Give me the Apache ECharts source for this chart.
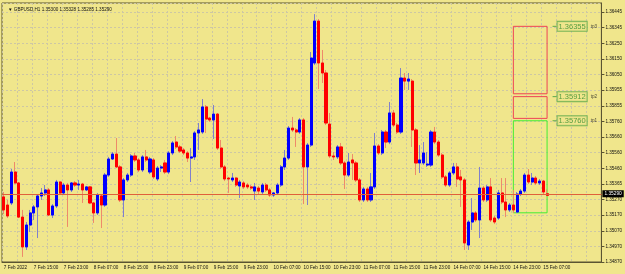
<!DOCTYPE html>
<html>
<head>
<meta charset="utf-8">
<script src="https://cdn.jsdelivr.net/npm/echarts@6/dist/echarts.min.js"></script>
<style>
    html, body { margin: 0; padding: 0; background: #f0e68c; }
    #chart { width: 625px; height: 274px; }
</style>
</head>
<body>
<div id="chart"></div>
<script>
// 蜡烛数据 [open, close, low, high]  GBPUSD H1, 7 Feb 07:00 -> 15 Feb 08:00
var ohlc = [
    [1.35280, 1.35198, 1.35172, 1.35311], [1.35229, 1.35160, 1.35147, 1.35261], [1.35242, 1.35437, 1.35229, 1.35456],
    [1.35437, 1.35368, 1.35361, 1.35500], [1.35368, 1.35153, 1.35147, 1.35374], [1.35153, 1.34965, 1.34902, 1.35198],
    [1.34965, 1.35103, 1.34946, 1.35122], [1.35103, 1.35179, 1.35059, 1.35198], [1.35179, 1.35217, 1.35135, 1.35229],
    [1.35217, 1.35286, 1.35021, 1.35298], [1.35286, 1.35305, 1.35261, 1.35336], [1.35305, 1.35324, 1.35286, 1.35355],
    [1.35324, 1.35166, 1.35160, 1.35336], [1.35166, 1.35223, 1.35147, 1.35235], [1.35223, 1.35374, 1.35210, 1.35387],
    [1.35374, 1.35305, 1.35292, 1.35380], [1.35305, 1.35355, 1.35292, 1.35368], [1.35355, 1.35324, 1.35091, 1.35368],
    [1.35324, 1.35368, 1.35311, 1.35374], [1.35368, 1.35355, 1.35343, 1.35380], [1.35355, 1.35361, 1.35324, 1.35387],
    [1.35361, 1.35324, 1.35242, 1.35368], [1.35324, 1.35343, 1.35317, 1.35349], [1.35343, 1.35242, 1.35235, 1.35349],
    [1.35242, 1.35179, 1.35116, 1.35248], [1.35179, 1.35292, 1.35166, 1.35305], [1.35286, 1.35229, 1.35084, 1.35298],
    [1.35229, 1.35418, 1.35217, 1.35431], [1.35418, 1.35519, 1.35406, 1.35532], [1.35519, 1.35550, 1.35513, 1.35563],
    [1.35550, 1.35469, 1.35462, 1.35651], [1.35469, 1.35261, 1.35248, 1.35481], [1.35261, 1.35387, 1.35153, 1.35399],
    [1.35387, 1.35418, 1.35374, 1.35431], [1.35418, 1.35538, 1.35406, 1.35550], [1.35538, 1.35513, 1.35500, 1.35557],
    [1.35513, 1.35450, 1.35437, 1.35525], [1.35450, 1.35532, 1.35437, 1.35544], [1.35532, 1.35513, 1.35500, 1.35576],
    [1.35437, 1.35519, 1.35424, 1.35532], [1.35513, 1.35406, 1.35393, 1.35525], [1.35393, 1.35462, 1.35380, 1.35475],
    [1.35462, 1.35469, 1.35437, 1.35481], [1.35494, 1.35437, 1.35424, 1.35513], [1.35437, 1.35557, 1.35424, 1.35569],
    [1.35557, 1.35620, 1.35544, 1.35632], [1.35626, 1.35595, 1.35582, 1.35664], [1.35595, 1.35569, 1.35557, 1.35607],
    [1.35576, 1.35557, 1.35544, 1.35588], [1.35557, 1.35525, 1.35500, 1.35569], [1.35525, 1.35532, 1.35374, 1.35588],
    [1.35532, 1.35683, 1.35513, 1.35695], [1.35683, 1.35702, 1.35576, 1.35746], [1.35689, 1.35847, 1.35677, 1.35897],
    [1.35847, 1.35771, 1.35683, 1.35859], [1.35777, 1.35765, 1.35752, 1.35784], [1.35765, 1.35802, 1.35645, 1.35859],
    [1.35802, 1.35588, 1.35576, 1.35809], [1.35588, 1.35469, 1.35456, 1.35639], [1.35469, 1.35393, 1.35380, 1.35481],
    [1.35399, 1.35393, 1.35305, 1.35406], [1.35387, 1.35399, 1.35374, 1.35431], [1.35399, 1.35355, 1.35343, 1.35406],
    [1.35349, 1.35374, 1.35273, 1.35387], [1.35368, 1.35343, 1.35330, 1.35380], [1.35355, 1.35343, 1.35330, 1.35368],
    [1.35343, 1.35336, 1.35324, 1.35355], [1.35317, 1.35343, 1.35261, 1.35368], [1.35336, 1.35317, 1.35298, 1.35349],
    [1.35311, 1.35355, 1.35298, 1.35368], [1.35355, 1.35324, 1.35311, 1.35368], [1.35324, 1.35292, 1.35280, 1.35336],
    [1.35292, 1.35305, 1.35280, 1.35311], [1.35305, 1.35355, 1.35292, 1.35368], [1.35355, 1.35469, 1.35343, 1.35481],
    [1.35469, 1.35525, 1.35450, 1.35576], [1.35525, 1.35714, 1.35513, 1.35727], [1.35714, 1.35702, 1.35689, 1.35784],
    [1.35702, 1.35689, 1.35595, 1.35714], [1.35689, 1.35765, 1.35677, 1.35777], [1.35765, 1.35469, 1.35235, 1.35777],
    [1.35469, 1.35607, 1.35229, 1.35620], [1.35607, 1.36155, 1.35595, 1.36193], [1.36124, 1.36388, 1.36111, 1.36432],
    [1.36388, 1.36124, 1.35960, 1.36401], [1.36124, 1.36061, 1.35998, 1.36206], [1.36061, 1.35746, 1.35733, 1.36080],
    [1.35739, 1.35538, 1.35525, 1.35809], [1.35538, 1.35532, 1.35513, 1.35563], [1.35532, 1.35595, 1.35519, 1.35607],
    [1.35595, 1.35494, 1.35481, 1.35620], [1.35494, 1.35418, 1.35330, 1.35506], [1.35418, 1.35500, 1.35406, 1.35557],
    [1.35513, 1.35494, 1.35387, 1.35550], [1.35494, 1.35387, 1.35374, 1.35506], [1.35387, 1.35261, 1.35248, 1.35399],
    [1.35261, 1.35330, 1.35248, 1.35343], [1.35330, 1.35261, 1.35248, 1.35343], [1.35261, 1.35343, 1.35248, 1.35431],
    [1.35343, 1.35601, 1.35330, 1.35683], [1.35601, 1.35557, 1.35544, 1.35613], [1.35557, 1.35689, 1.35544, 1.35702],
    [1.35689, 1.35626, 1.35588, 1.35702], [1.35626, 1.35809, 1.35613, 1.35878], [1.35809, 1.35733, 1.35721, 1.35828],
    [1.35733, 1.35689, 1.35677, 1.35746], [1.35689, 1.36029, 1.35677, 1.36092], [1.36029, 1.36010, 1.35954, 1.36061],
    [1.36010, 1.36023, 1.35954, 1.36061], [1.36010, 1.35702, 1.35595, 1.36023], [1.35702, 1.35494, 1.35418, 1.35714],
    [1.35494, 1.35513, 1.35431, 1.35607], [1.35494, 1.35557, 1.35481, 1.35626], [1.35481, 1.35487, 1.35469, 1.35563],
    [1.35481, 1.35689, 1.35469, 1.35702], [1.35689, 1.35626, 1.35613, 1.35721], [1.35626, 1.35544, 1.35532, 1.35639],
    [1.35544, 1.35406, 1.35393, 1.35557], [1.35406, 1.35355, 1.35343, 1.35418], [1.35355, 1.35431, 1.35343, 1.35443],
    [1.35431, 1.35469, 1.35418, 1.35494], [1.35469, 1.35393, 1.35343, 1.35494], [1.35406, 1.35387, 1.35217, 1.35450],
    [1.35387, 1.34990, 1.34946, 1.35399], [1.34977, 1.35122, 1.34946, 1.35135], [1.35122, 1.35179, 1.35072, 1.35273],
    [1.35179, 1.35135, 1.35122, 1.35191], [1.35135, 1.35336, 1.35021, 1.35469], [1.35336, 1.35261, 1.35248, 1.35349],
    [1.35261, 1.35343, 1.35248, 1.35355], [1.35343, 1.35135, 1.35122, 1.35399], [1.35147, 1.35122, 1.35109, 1.35160],
    [1.35147, 1.35305, 1.35135, 1.35324], [1.35305, 1.35248, 1.35235, 1.35399], [1.35248, 1.35198, 1.35153, 1.35399],
    [1.35198, 1.35229, 1.35185, 1.35242], [1.35229, 1.35198, 1.35179, 1.35324], [1.35185, 1.35298, 1.35179, 1.35311],
    [1.35298, 1.35317, 1.35286, 1.35330], [1.35317, 1.35418, 1.35305, 1.35431], [1.35418, 1.35374, 1.35361, 1.35456],
    [1.35374, 1.35399, 1.35355, 1.35431], [1.35399, 1.35368, 1.35355, 1.35412], [1.35368, 1.35380, 1.35355, 1.35393],
    [1.35380, 1.35311, 1.35298, 1.35387], [1.35300, 1.35290, 1.35285, 1.35328]
];

// 时间轴: 天 + 小时范围 (空白部分是未来的K线位置)
var sessions = [
    { day: "7 Feb", from: 7, to: 23 },
    { day: "8 Feb", from: 0, to: 23 },
    { day: "9 Feb", from: 0, to: 23 },
    { day: "10 Feb", from: 0, to: 23 },
    { day: "11 Feb", from: 0, to: 23 },
    { day: "14 Feb", from: 0, to: 23 },
    { day: "15 Feb", from: 0, to: 22 }
];
var firstLabel = "7 Feb 2022";

// 价格轴刻度
var yTickLabels = ["1.34870", "1.34970", "1.35070", "1.35170", "1.35270", "1.35365", "1.35460", "1.35560",
    "1.35660", "1.35760", "1.35855", "1.35955", "1.36050", "1.36150", "1.36250", "1.36345", "1.36445"];
var yMin = 1.34870;
var yTop = 1.36445;
var yMax = 1.36502;

// 目标位
var tpLevels = [
    { name: "tp3", price: 1.36355, bottom: 1.35930, color: "#ee4455" },
    { name: "tp2", price: 1.35912, bottom: 1.35775, color: "#ee4455" },
    { name: "tp1", price: 1.35760, bottom: 1.35180, color: "#44ee33" }
];
var boxFrom = 136;
var boxTo = 145;
var tpLabelAt = 147;
var bidPrice = 1.35300;
var bidText = "1.35290";
var symbolName = "GBPUSD,H1";

function buildCategories() {
    var cats = [];
    for (var i = 0; i < sessions.length; i++) {
        for (var h = sessions[i].from; h <= sessions[i].to; h++) {
            cats.push(sessions[i].day + " " + (h < 10 ? "0" + h : h) + ":00");
        }
    }
    return cats;
}

var categories = buildCategories();
var yStep = (yTop - yMin) / (yTickLabels.length - 1);
var last = ohlc[ohlc.length - 1];
var headerText = "\u25BC " + symbolName + " " + last[0].toFixed(5) + " " + last[3].toFixed(5) + " " +
    last[2].toFixed(5) + " " + last[1].toFixed(5);

// 实体部分 (不含影线)
var bodies = ohlc.map(function (d) {
    return [d[0], d[1], Math.min(d[0], d[1]), Math.max(d[0], d[1])];
});

var boxAreas = tpLevels.map(function (t) {
    return [
        { coord: [boxFrom, t.price], itemStyle: { color: "rgba(0,0,0,0)", borderColor: t.color, borderWidth: 1 } },
        { coord: [boxTo, t.bottom] }
    ];
});

var tpPoints = tpLevels.map(function (t) {
    return { value: [tpLabelAt, t.price], name: t.name };
});

var fontName = "Liberation Sans";
var axisColor = "#5a5432";
var gridColor = "#cdc7a4";

var myChart = echarts.init(document.getElementById("chart"));
var option = {
    backgroundColor: "#f0e68c",
    animation: false,
    title: {
        text: headerText,
        left: 3,
        top: 2,
        textStyle: { fontSize: 4.6, fontWeight: "normal", color: "#111", fontFamily: fontName }
    },
    grid: {
        left: 2,
        right: 22,
        top: 3,
        bottom: 12,
        show: true,
        borderColor: axisColor,
        borderWidth: 1,
        backgroundColor: "rgba(0,0,0,0)"
    },
    xAxis: {
        type: "category",
        data: categories,
        boundaryGap: true,
        axisLine: { lineStyle: { color: axisColor } },
        axisTick: { interval: 7, length: 3, lineStyle: { color: axisColor } },
        axisLabel: {
            interval: 7,
            fontSize: 4.6,
            fontFamily: fontName,
            color: "#111",
            align: "left",
            margin: 3,
            formatter: function (v, idx) {
                if (idx >= ohlc.length) return "";
                return idx == 0 ? firstLabel : v;
            }
        },
        splitLine: { show: true, interval: 3, lineStyle: { color: gridColor, type: [2, 2], width: 1 } }
    },
    yAxis: {
        type: "value",
        position: "right",
        min: yMin,
        max: yMax,
        interval: yStep,
        axisLine: { show: true, lineStyle: { color: axisColor } },
        axisTick: { show: true, length: 3, lineStyle: { color: axisColor } },
        axisLabel: {
            fontSize: 4.6,
            fontFamily: fontName,
            color: "#111",
            margin: 4,
            showMaxLabel: false,
            formatter: function (v) {
                var k = Math.round((v - yMin) / yStep);
                return (k >= 0 && k < yTickLabels.length) ? yTickLabels[k] : "";
            }
        },
        splitLine: { show: true, lineStyle: { color: gridColor, type: [2, 2], width: 1 } }
    },
    series: [
        {
            // 影线
            type: "candlestick",
            data: ohlc,
            barWidth: "70%",
            itemStyle: {
                color: "#8080cc",
                color0: "#ee8a6a",
                borderColor: "#8080cc",
                borderColor0: "#ee8a6a",
                borderWidth: 1
            },
            markArea: { silent: true, data: boxAreas }
        },
        {
            // 实体
            type: "candlestick",
            data: bodies,
            barWidth: "70%",
            itemStyle: {
                color: "#0000ff",
                color0: "#ff0000",
                borderColor: "#0000ff",
                borderColor0: "#ff0000",
                borderWidth: 1
            }
        },
        {
            // tp 标签 + 现价线
            type: "scatter",
            data: tpPoints,
            symbol: "rect",
            symbolSize: [4, 1],
            itemStyle: { color: "#3a9a3a" },
            label: {
                show: true,
                position: "right",
                distance: 1,
                formatter: function (p) {
                    return "{a|" + p.value[1].toFixed(5) + "}{b|" + p.name + "}";
                },
                rich: {
                    a: {
                        fontSize: 7.5,
                        fontFamily: fontName,
                        color: "#2e8b2e",
                        borderColor: "#5aa84a",
                        borderWidth: 1,
                        backgroundColor: "#f0e68c",
                        padding: [1, 1, 0, 1]
                    },
                    b: { fontSize: 4.6, fontFamily: fontName, color: "#222", padding: [0, 0, 0, 4] }
                }
            },
            markLine: {
                silent: true,
                symbol: "none",
                precision: 5,
                lineStyle: { color: "#e0603a", width: 1, type: "solid" },
                label: {
                    show: true,
                    position: "end",
                    distance: 1,
                    formatter: bidText,
                    color: "#fff",
                    backgroundColor: "#000",
                    fontSize: 4.8,
                    fontFamily: fontName,
                    padding: [1, 2]
                },
                data: [{ yAxis: bidPrice }]
            }
        }
    ]
};
myChart.setOption(option);
</script>
</body>
</html>
